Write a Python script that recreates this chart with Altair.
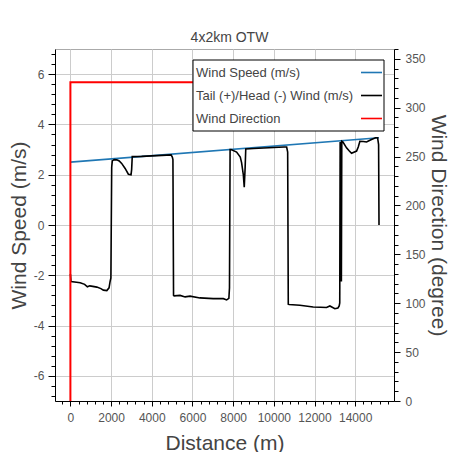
import altair as alt
import pandas as pd

# ---- data ----
speed_dist = [0, 15170]
speed_val = [2.50, 3.47]

tw_dist = [0, 30, 300, 480, 700, 835, 950, 1100, 1300, 1500, 1620, 1790, 1900, 1950, 1990,
           2030, 2060, 2150, 2280, 2400, 2520, 2690, 2850, 2980, 3010, 3040, 3500, 4000, 4500,
           4950, 5010, 5040, 5070, 5100, 5390, 5640, 5880, 6370, 7020, 7520, 7680, 7790, 7820,
           7850, 7900, 8170, 8350, 8415, 8500, 8546, 8590, 8620, 9000, 9500, 10000, 10500,
           10630, 10680, 10710, 10750, 11280, 11935, 12300, 12590, 12755, 13000, 13150, 13213,
           13240, 13260, 13300, 13320, 13340, 13400, 13573, 13700, 13820, 14067, 14150, 14230,
           14400, 14557, 14700, 14803, 15000, 15100, 15150, 15170]
tw_val = [-1.95, -2.25, -2.28, -2.30, -2.36, -2.46, -2.42, -2.44, -2.47, -2.53, -2.59, -2.61,
          -2.50, -2.25, -2.10,
          2.30, 2.55, 2.60, 2.59, 2.55, 2.45, 2.25, 2.02, 2.00, 2.20, 2.72, 2.73, 2.75, 2.77,
          2.79, 2.70, 2.60, -2.80, -2.82, -2.80, -2.86, -2.83, -2.90, -2.93, -2.93, -2.98,
          -2.92, -2.50,
          3.00, 3.00, 2.90, 2.70, 2.48, 2.00, 1.50, 2.30, 3.02, 3.04, 3.06, 3.08, 3.10,
          3.10, 2.90, -3.15, -3.16, -3.19, -3.26, -3.27, -3.28, -3.22, -3.33, -3.30, -3.22,
          -3.10, 3.30, 3.20, -2.25, 3.33, 3.30, 3.07, 2.95, 2.85, 2.94, 3.10, 3.33,
          3.32, 3.30, 3.36, 3.40, 3.47, 3.47, 3.20, 0.00]

dir_dist = [0, 0, 15170]
dir_val = [0, 326, 326]

series_names = ["Wind Speed (m/s)", "Tail (+)/Head (-) Wind (m/s)", "Wind Direction"]
series_colors = ["#1f77b4", "#000000", "#ff0000"]

x_ticks = list(range(-400, 15601, 400))
yl_ticks = [round(-6.8 + 0.4 * i, 1) for i in range(35)]
yr_ticks = list(range(0, 361, 10))

FONT = "Liberation Sans"

rows = []
for i, (d, v) in enumerate(zip(speed_dist, speed_val)):
    rows.append({"dist": d, "val": v, "series": series_names[0], "idx": i})
for i, (d, v) in enumerate(zip(tw_dist, tw_val)):
    rows.append({"dist": d, "val": v, "series": series_names[1], "idx": i})
speed_df = pd.DataFrame(rows)
dir_df = pd.DataFrame({"dist": dir_dist, "deg": dir_val, "idx": list(range(len(dir_dist)))})

x_scale = alt.Scale(domain=[-757, 15907], nice=False, zero=False)

x_axis = alt.Axis(
    values=x_ticks, title="Distance (m)",
    labelExpr="(datum.value % 2000 === 0 && datum.value >= 0 && datum.value <= 14000) ? format(datum.value, 'd') : ''",
    tickSize={"condition": {"test": "datum.value % 2000 === 0", "value": 5}, "value": 3},
    gridOpacity={"condition": {"test": "datum.value % 2000 === 0", "value": 1}, "value": 0},
    grid=True, labelOverlap=False, labelFlush=False, labelPadding=6, titlePadding=9,
)
yl_axis = alt.Axis(
    values=yl_ticks, title="Wind Speed (m/s)", orient="left",
    labelExpr="abs(datum.value % 2) < 0.001 ? '' + datum.value : ''",
    tickSize={"condition": {"test": "abs(datum.value % 2) < 0.001", "value": 7}, "value": 4},
    gridOpacity={"condition": {"test": "abs(datum.value % 2) < 0.001", "value": 1}, "value": 0},
    grid=True, labelOverlap=False, labelFlush=False, labelPadding=4, titlePadding=4,
)
yr_axis = alt.Axis(
    values=yr_ticks, title="Wind Direction (degree)", orient="right",
    labelExpr="datum.value % 50 === 0 && datum.value <= 350 ? '' + datum.value : ''",
    tickSize={"condition": {"test": "datum.value % 50 === 0", "value": 6}, "value": 4},
    grid=False, labelOverlap=False, labelFlush=False, labelPadding=5, titlePadding=2,
)

speed = alt.Chart(speed_df).mark_line(strokeWidth=1.6).encode(
    x=alt.X("dist:Q", scale=x_scale, axis=x_axis),
    y=alt.Y("val:Q", scale=alt.Scale(domain=[-7, 7], nice=False), axis=yl_axis),
    color=alt.Color("series:N", scale=alt.Scale(domain=series_names[:2], range=series_colors[:2]), legend=None),
    order="idx:Q",
)

direction = alt.Chart(dir_df).mark_line(strokeWidth=2, color=series_colors[2]).encode(
    x=alt.X("dist:Q", scale=x_scale, axis=x_axis),
    y=alt.Y("deg:Q", scale=alt.Scale(domain=[0, 360], nice=False), axis=yr_axis),
    order="idx:Q",
)

# ---- legend box (drawn manually: labels left, line samples right) ----
one = pd.DataFrame({"a": [0]})
leg_box = alt.Chart(one).mark_rect(fill="white", stroke="black", strokeWidth=1).encode(
    x=alt.value(138), x2=alt.value(329), y=alt.value(11), y2=alt.value(82))
leg_layers = [leg_box]
leg_y = [23.5, 46.5, 69.5]
for name, col, yy in zip(series_names, series_colors, leg_y):
    leg_layers.append(alt.Chart(one).mark_text(align="left", baseline="middle", font=FONT,
                                               fontSize=13, color="#444444").encode(
        x=alt.value(141), y=alt.value(yy), text=alt.value(name)))
    leg_layers.append(alt.Chart(one).mark_rule(color=col, strokeWidth=1.6).encode(
        x=alt.value(306), x2=alt.value(327), y=alt.value(yy)))

chart = alt.layer(speed, direction, *leg_layers).resolve_scale(y="independent").properties(
    width=339, height=352,
    autosize=alt.AutoSizeParams(type="none"),
    padding={"left": 47, "top": 41, "right": 58, "bottom": 51},
    title=alt.TitleParams("4x2km OTW", font=FONT, fontSize=14, fontWeight="normal",
                          color="#444444", anchor="middle", dx=5, dy=9, offset=7),
).configure_view(stroke="#aaaaaa", strokeWidth=1).configure_axis(
    labelFont=FONT, labelFontSize=12, labelColor="#555555",
    titleFont=FONT, titleFontSize=21, titleFontWeight="normal", titleColor="#444444",
    domainColor="black", domainWidth=1, tickColor="black", tickWidth=1,
    gridColor="#cccccc", gridWidth=1,
)

chart.save("out.html", embed_options={"renderer": "svg", "actions": False})
